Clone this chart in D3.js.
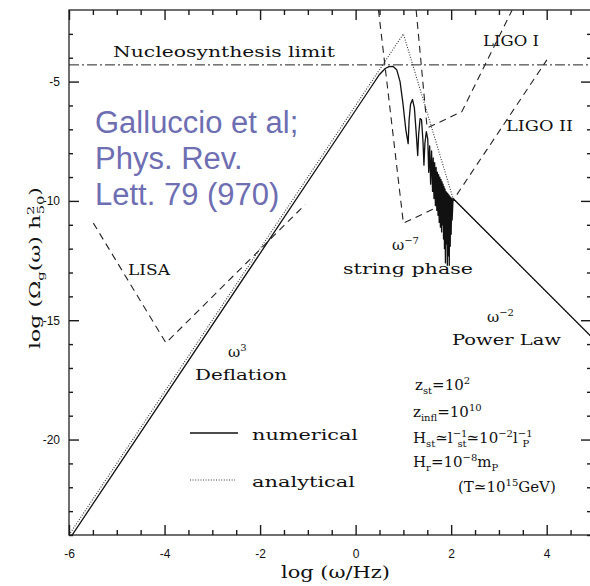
<!DOCTYPE html>
<html>
<head>
<meta charset="utf-8">
<script src="https://cdn.jsdelivr.net/npm/d3@7"></script>
<style>
  body { margin: 0; background: #fff; }
  svg { display: block; }
  .axis text { font-family: "Liberation Sans", Arial, sans-serif; font-size: 12px; fill: #111; }
  .serif { font-family: "DejaVu Serif", "Liberation Serif", serif; font-size: 15px; fill: #111; }
</style>
</head>
<body>
<svg id="chart" width="590" height="586"></svg>
<script>
// ---- data (log ω [Hz], log Ω h²) ----
const numerical = [
  [-6, -24.2], [0.3, -5.3], [0.5, -4.7], [0.62, -4.45], [0.7, -4.37], [0.78, -4.36],
  [0.86, -4.5], [0.93, -5.0], [0.99, -5.9], [1.05, -7.0], [1.1, -7.6],
  [1.12, -6.6], [1.15, -5.95], [1.19, -5.75], [1.23, -6.1], [1.27, -7.2], [1.3, -8.1],
  [1.32, -7.2], [1.35, -6.55], [1.38, -6.6], [1.41, -7.5], [1.43, -8.5],
  [1.45, -7.6], [1.48, -7.1], [1.51, -7.4], [1.53, -8.8],
  [1.55, -7.7], [1.57, -9.3], [1.59, -7.9], [1.61, -9.6], [1.625, -8.2], [1.64, -9.9],
  [1.655, -8.4], [1.67, -10.2], [1.685, -8.6], [1.7, -10.4], [1.712, -8.8], [1.725, -10.6],
  [1.737, -8.9], [1.75, -10.9], [1.762, -9.0], [1.775, -11.1], [1.787, -9.1], [1.8, -11.3],
  [1.81, -9.2], [1.82, -11.0], [1.83, -9.3], [1.84, -11.6], [1.85, -9.4], [1.86, -12.0],
  [1.87, -9.5], [1.88, -12.6], [1.89, -9.6], [1.9, -11.8], [1.91, -9.65], [1.92, -12.7],
  [1.93, -9.7], [1.94, -12.3], [1.95, -9.75], [1.96, -12.7], [1.97, -9.8], [1.98, -11.9],
  [1.99, -9.85], [2.0, -11.4], [2.01, -9.9], [2.02, -10.8], [2.04, -9.9], [5, -15.82]
];
const analytical = [[-6, -24], [1.0, -3.0], [2.04, -9.9], [5, -15.82]];
const lisa = [[-5.49, -10.93], [-3.97, -15.95], [-1.06, -10.16]];
const ligo1 = [[1.267, -2.0], [1.497, -6.94], [2.224, -6.26], [3.277, -2.0]];
const ligo2 = [[0.478, -2.0], [1.0, -10.93], [2.048, -9.95], [4.004, -4.09]];
const nucleosynthesis = -4.3;

const xMajor = [-6, -4, -2, 0, 2, 4];
const yMajor = [-20, -15, -10, -5];

const svg = d3.select("#chart");
const pLeft = 69, pRight = 591, pTop = 10, pBottom = 535;

const x = d3.scaleLinear().domain([-6, 4]).range([69, 546.7]);
const y = d3.scaleLinear().domain([-24, -2]).range([pBottom, pTop]);
const xMax = x.invert(pRight);

const line = d3.line().x(d => x(d[0])).y(d => y(d[1]));

svg.append("clipPath").attr("id", "plot")
  .append("rect").attr("x", pLeft).attr("y", pTop)
  .attr("width", pRight - pLeft).attr("height", pBottom - pTop);

const g = svg.append("g").attr("clip-path", "url(#plot)");

// nucleosynthesis limit
g.append("line")
  .attr("x1", pLeft).attr("x2", pRight)
  .attr("y1", y(nucleosynthesis)).attr("y2", y(nucleosynthesis))
  .attr("stroke", "#222").attr("stroke-width", 1)
  .attr("stroke-dasharray", "10,3,2,3");

// detector sensitivity curves
[lisa, ligo1, ligo2].forEach(d => {
  g.append("path").attr("d", line(d))
    .attr("fill", "none").attr("stroke", "#222").attr("stroke-width", 1.1)
    .attr("stroke-dasharray", "7,5");
});

g.append("path").attr("d", line(analytical))
  .attr("fill", "none").attr("stroke", "#333").attr("stroke-width", 1.1)
  .attr("stroke-dasharray", "1,1.6");

g.append("path").attr("d", line(numerical))
  .attr("fill", "none").attr("stroke", "#111").attr("stroke-width", 1.3)
  .attr("stroke-linejoin", "round");

// frame
svg.append("rect").attr("x", pLeft).attr("y", pTop)
  .attr("width", pRight - pLeft).attr("height", pBottom - pTop)
  .attr("fill", "none").attr("stroke", "#222").attr("stroke-width", 1.3);

// ticks, pointing inwards on all four sides
const xMinor = d3.range(-6, xMax, 0.5).filter(v => !xMajor.includes(v));
const yMinor = d3.range(-24, -2, 1).filter(v => !yMajor.includes(v));

function axis(gen, tx, ty, values, size, labels, pad) {
  const a = gen.tickValues(values).tickSize(-size).tickPadding(pad || 3);
  a.tickFormat(labels ? d => String(d) : () => "");
  const sel = svg.append("g").attr("class", "axis")
    .attr("transform", `translate(${tx},${ty})`).call(a);
  sel.select(".domain").remove();
  sel.selectAll(".tick line").attr("stroke", "#1a1a1a").attr("stroke-width", 1.4);
  return sel;
}
axis(d3.axisBottom(x), 0, pBottom, xMinor, 5);
axis(d3.axisBottom(x), 0, pBottom, xMajor, 10, true, 14);
axis(d3.axisTop(x), 0, pTop, xMinor, 5);
axis(d3.axisTop(x), 0, pTop, xMajor, 10);
axis(d3.axisLeft(y), pLeft, 0, yMinor, 4);
axis(d3.axisLeft(y), pLeft, 0, yMajor, 10, true, 9);
axis(d3.axisRight(y), pRight, 0, yMinor, 4);
axis(d3.axisRight(y), pRight, 0, yMajor, 10);

// rich text helper: segments [text, kind, dx]
function rich(px, py, segs, opts = {}) {
  const t = svg.append("text").attr("class", "serif").attr("x", px).attr("y", py);
  if (opts.size) t.style("font-size", opts.size + "px");
  if (opts.len) t.attr("textLength", opts.len).attr("lengthAdjust", "spacingAndGlyphs");
  let shift = 0;
  segs.forEach(([s, kind, dx]) => {
    const sp = t.append("tspan").text(s);
    let target = 0;
    if (kind === "sup") { target = -6; sp.style("font-size", "10px"); }
    if (kind === "sub") { target = 4; sp.style("font-size", "10px"); }
    sp.attr("dy", target - shift);
    if (dx) sp.attr("dx", dx);
    shift = target;
  });
  return t;
}

rich(113, 57, [["Nucleosynthesis limit"]], { len: 222 });
rich(483, 46, [["LIGO I"]], { len: 56 });
rich(506, 131, [["LIGO II"]], { len: 67 });
rich(128, 275, [["LISA"]], { len: 42 });
rich(343, 274, [["string phase"]], { len: 130 });
rich(392, 250, [["ω"], ["−7", "sup"]]);
rich(195, 380, [["Deflation"]], { len: 92 });
rich(228, 357, [["ω"], ["3", "sup"]]);
rich(452, 345, [["Power Law"]], { len: 109 });
rich(487, 322, [["ω"], ["−2", "sup"]]);

rich(415, 390, [["z"], ["st", "sub"], ["=10"], ["2", "sup"]]);
rich(413, 417, [["z"], ["infl", "sub"], ["=10"], ["10", "sup"]]);
rich(413, 443, [["H"], ["st", "sub"], ["≃l"], ["−1", "sup"], ["st", "sub", -10], ["≃10"], ["−2", "sup"], ["l"], ["−1", "sup"], ["P", "sub", -10]]);
rich(413, 467, [["H"], ["r", "sub"], ["=10"], ["−8", "sup"], ["m"], ["P", "sub"]]);
rich(458, 492, [["(T≃10"], ["15", "sup"], ["GeV)"]]);

// legend
svg.append("line").attr("x1", 190).attr("x2", 238).attr("y1", 433).attr("y2", 433)
  .attr("stroke", "#111").attr("stroke-width", 1.3);
svg.append("line").attr("x1", 190).attr("x2", 235).attr("y1", 480).attr("y2", 480)
  .attr("stroke", "#333").attr("stroke-width", 1.1).attr("stroke-dasharray", "1,1.6");
rich(252, 440, [["numerical"]], { len: 106 });
rich(252, 487, [["analytical"]], { len: 103 });

// axis titles
rich(281, 578, [["log (ω/Hz)"]], { size: 16, len: 109 });
const yl = svg.append("g").attr("transform", "translate(40,268) rotate(-90)");
const ylt = yl.append("text").attr("class", "serif").attr("text-anchor", "middle")
  .style("font-size", "15px").attr("textLength", 162).attr("lengthAdjust", "spacingAndGlyphs");
ylt.append("tspan").text("log (Ω");
ylt.append("tspan").text("g").attr("dy", 4).style("font-size", "10px");
ylt.append("tspan").text("(ω) h").attr("dy", -4);
ylt.append("tspan").text("2").attr("dy", -6).style("font-size", "10px");
ylt.append("tspan").text("50").attr("dy", 10).attr("dx", -6).style("font-size", "10px");
ylt.append("tspan").text(")").attr("dy", -4);

// citation overlay
const cite = ["Galluccio et al;", "Phys. Rev.", "Lett. 79 (970)"];
svg.append("g").selectAll("text").data(cite).join("text")
  .attr("x", 95).attr("y", (d, i) => 133 + i * 36)
  .attr("fill", "#6e6eb2")
  .style("font-family", "\"Liberation Sans\", Arial, sans-serif")
  .style("font-size", "31px")
  .text(d => d);
</script>
</body>
</html>
